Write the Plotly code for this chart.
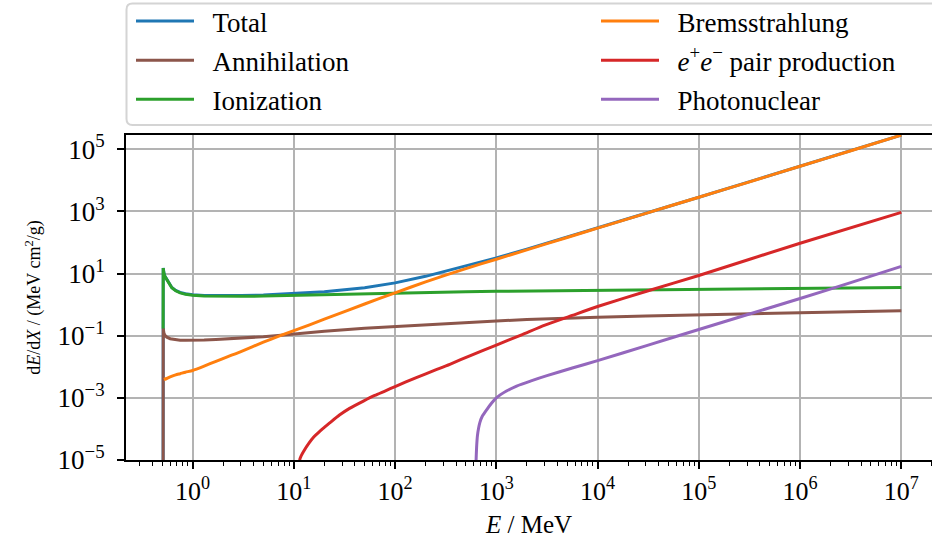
import plotly.graph_objects as go

# ---------------- data ----------------
E_main = [0.511, 0.5125, 0.52, 0.53, 0.556, 0.6, 0.623, 0.68, 0.753, 0.85, 1.0, 1.3, 1.7, 2.2,
          3, 5, 7, 10, 20, 50, 100, 200, 500, 1e3, 2e3, 5e3, 1e4, 3e4, 1e5, 3e5, 1e6, 3e6, 1e7]
total = [1e-7, 15.18, 10.63, 8.41, 6.49, 4.38, 3.58, 2.88, 2.48, 2.23, 2.08, 1.98, 1.95, 1.95,
         1.975, 2.045, 2.14, 2.26, 2.58, 3.51, 5.02, 8.15, 17.4, 32.0, 61.2, 148.6, 294.2, 876.2,
         2862.5, 8531, 28600, 85299, 285961]
ionization = [0.17, 15, 10.5, 8.3, 6.4, 4.3, 3.5, 2.8, 2.4, 2.15, 2.0, 1.9, 1.86, 1.85,
              1.86, 1.89, 1.94, 2.0, 2.1, 2.28, 2.42, 2.52, 2.62, 2.68, 2.74, 2.82, 2.88, 2.98,
              3.08, 3.2, 3.3, 3.45, 3.58]
annihilation = [1e-7, 0.175, 0.125, 0.105, 0.09, 0.08, 0.078, 0.074, 0.072, 0.071, 0.071, 0.073,
                0.076, 0.079, 0.084, 0.093, 0.102, 0.115, 0.14, 0.175, 0.2, 0.225, 0.265, 0.3,
                0.33, 0.37, 0.395, 0.43, 0.47, 0.51, 0.55, 0.59, 0.64]

E_brems = [0.52, 0.556, 0.6, 0.68, 0.753, 0.85, 1.0, 1.3, 1.7, 2.2, 3, 5, 7, 10, 20, 50, 100,
           200, 500, 1e3, 2e3, 5e3, 1e4, 3e4, 1e5, 3e5, 1e6, 3e6, 1e7]
bremsstrahlung = [0.0039, 0.0042, 0.0047, 0.0055, 0.006, 0.0067, 0.0076, 0.0105, 0.015, 0.021,
                  0.031, 0.062, 0.095, 0.145, 0.34, 1.05, 2.4, 5.4, 14.5, 29, 58, 145, 290, 870,
                  2850, 8500, 28500, 85000, 285000]

E_pair = [10.5, 11.5, 12.6, 14.1, 15.8, 17.8, 20, 22.8, 28.2, 35.5, 48.6, 63, 79.4, 100, 162,
          251, 347, 562, 1e3, 1778, 3020, 5623, 1e4, 31623, 1e5, 1e6, 1e7]
pair = [1e-7, 1.1e-5, 2.0e-5, 3.5e-5, 5.6e-5, 8.1e-5, 1.12e-4, 1.6e-4, 2.8e-4, 4.6e-4, 7.9e-4,
        1.2e-3, 1.66e-3, 2.3e-3, 4.5e-3, 7.9e-3, 1.2e-2, 2.35e-2, 5.0e-2, 0.107, 0.22, 0.45,
        0.87, 2.8, 8.7, 95, 930]

E_photo = [616.6, 631, 638, 650, 668, 687, 724, 805, 891, 1000, 1259, 1585, 2239, 3162, 5623,
           1e4, 31623, 1e5, 316228, 1e6, 3162278, 1e7]
photonuclear = [1e-7, 1e-5, 2.5e-5, 6e-5, 1.07e-4, 1.6e-4, 2.5e-4, 4.2e-4, 6.6e-4, 1.0e-3,
                1.66e-3, 2.4e-3, 3.6e-3, 5.2e-3, 9.1e-3, 0.0158, 0.05, 0.158, 0.5, 1.58, 5.1, 17]

x_tickvals = [1, 10, 100, 1e3, 1e4, 1e5, 1e6, 1e7]
x_ticktext = ["10<sup>0</sup>", "10<sup>1</sup>", "10<sup>2</sup>", "10<sup>3</sup>",
              "10<sup>4</sup>", "10<sup>5</sup>", "10<sup>6</sup>", "10<sup>7</sup>"]
y_tickvals = [1e-5, 1e-3, 1e-1, 1e1, 1e3, 1e5]
y_ticktext = ["10<sup>−5</sup>", "10<sup>−3</sup>", "10<sup>−1</sup>", "10<sup>1</sup>",
              "10<sup>3</sup>", "10<sup>5</sup>"]

# ---------------- figure ----------------
FONT = "Liberation Serif"
W, H = 932, 541
ML, MR, MT, MB = 126, 0, 135, 81
PW, PH = W - ML - MR, H - MT - MB

def px2paper_x(px):
    return (px - ML) / PW

def px2paper_y(py):
    return (H - MB - py) / PH

fig = go.Figure()
series = [
    ("Total", E_main, total, "#1f77b4", "legend", "linear"),
    ("Annihilation", E_main, annihilation, "#8c564b", "legend", "linear"),
    ("Ionization", E_main, ionization, "#2ca02c", "legend", "linear"),
    ("Bremsstrahlung", E_brems, bremsstrahlung, "#ff7f0e", "legend2", "spline"),
    ("<i>e</i><sup>+</sup><i>e</i><sup>−</sup> pair production", E_pair, pair, "#d62728", "legend2", "spline"),
    ("Photonuclear", E_photo, photonuclear, "#9467bd", "legend2", "spline"),
]
for i, (name, xs, ys, col, lg, shape) in enumerate(series):
    fig.add_trace(go.Scatter(x=xs, y=ys, mode="lines", name="\u00a0\u00a0" + name, legend=lg,
                             legendgroup=f"g{i}",
                             line=dict(color=col, width=3, shape=shape, smoothing=0.6)))

legend_common = dict(
    font=dict(family=FONT, size=27, color="black"),
    bgcolor="rgba(0,0,0,0)", borderwidth=0,
    orientation="v", xanchor="left", yanchor="top",
    itemwidth=58, tracegroupgap=1,
)
fig.update_layout(
    width=W, height=H,
    margin=dict(l=ML, r=MR, t=MT, b=MB, pad=0, autoexpand=False),
    paper_bgcolor="white", plot_bgcolor="white",
    font=dict(family=FONT, size=26, color="black"),
    legend=dict(x=px2paper_x(131), y=px2paper_y(-3), **legend_common),
    legend2=dict(x=px2paper_x(596), y=px2paper_y(-3), **legend_common),
)

# rounded legend frame
x0, x1 = px2paper_x(126.5), px2paper_x(940)
y0, y1 = px2paper_y(125), px2paper_y(3.5)
rx, ry = 6 / PW, 6 / PH
path = (f"M{x0+rx},{y1} L{x1-rx},{y1} Q{x1},{y1} {x1},{y1-ry} L{x1},{y0+ry} "
        f"Q{x1},{y0} {x1-rx},{y0} L{x0+rx},{y0} Q{x0},{y0} {x0},{y0+ry} "
        f"L{x0},{y1-ry} Q{x0},{y1} {x0+rx},{y1} Z")
fig.add_shape(type="path", path=path, xref="paper", yref="paper",
              line=dict(color="#d4d4d4", width=2), fillcolor="rgba(255,255,255,0.8)", layer="below")

fig.update_xaxes(
    type="log", range=[-0.658, 7.303],
    tickmode="array", tickvals=x_tickvals, ticktext=x_ticktext,
    ticks="outside", ticklen=7, tickwidth=1.5, tickcolor="black",
    showline=True, linecolor="black", linewidth=2, mirror=True,
    showgrid=True, gridcolor="#b3b3b3", gridwidth=1.5, zeroline=False,
    tickfont=dict(family=FONT, size=26),
    minor=dict(ticks="outside", ticklen=4, tickwidth=1.2, tickcolor="black", dtick="D1", showgrid=False),
    title=dict(text="<i>E</i> / MeV", font=dict(family=FONT, size=25), standoff=10),
)
fig.update_yaxes(
    type="log", range=[-5, 5.46],
    tickmode="array", tickvals=y_tickvals, ticktext=y_ticktext,
    ticks="outside", ticklen=7, tickwidth=1.5, tickcolor="black",
    showline=True, linecolor="black", linewidth=2, mirror=False,
    showgrid=True, gridcolor="#b3b3b3", gridwidth=1.5, zeroline=False,
    tickfont=dict(family=FONT, size=27), ticklabelstandoff=7,
    title=dict(text="d<i>E</i>/d<i>X</i> / (MeV cm<sup>2</sup>/g)", font=dict(family=FONT, size=18), standoff=12),
)

fig.write_html("out.html", config={"displayModeBar": False},
               post_script="document.body.style.margin='0';document.body.style.overflow='hidden';")
